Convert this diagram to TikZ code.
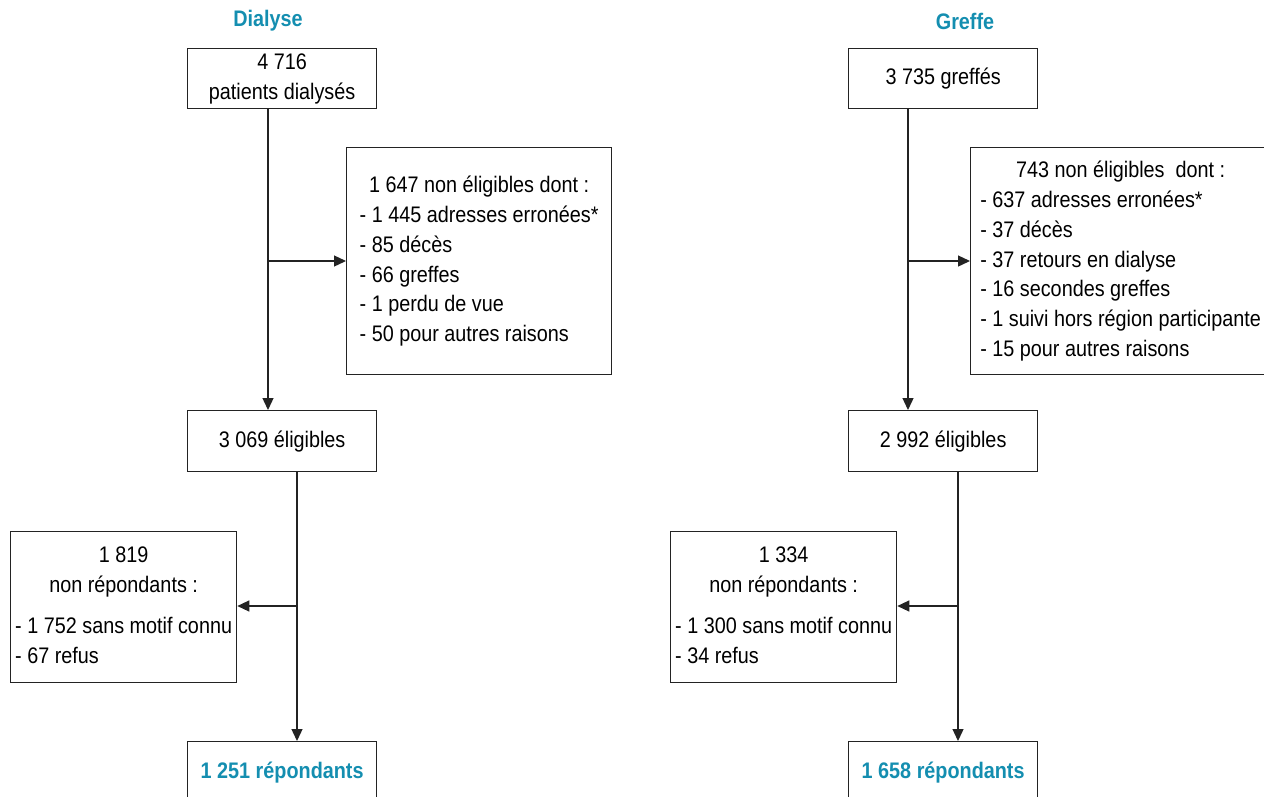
\documentclass[tikz,border=0pt]{standalone}
\usepackage{fontspec}
\setmainfont{Liberation Sans}[FakeStretch=0.88]
\usetikzlibrary{arrows.meta}
\definecolor{titleblue}{RGB}{20,142,176}
\definecolor{linegray}{RGB}{35,35,35}
\newcommand{\hd}[1]{\multicolumn{1}{@{}c@{}}{#1}}
\begin{document}
\begin{tikzpicture}[x=1pt,y=-1pt,
  txt/.style={font=\fontsize{22.5}{29.8}\selectfont},
  box/.style={draw=linegray,line width=1.3pt,inner sep=0pt,anchor=north west,align=center,txt},
  ttl/.style={font=\fontsize{22.5}{24}\selectfont\bfseries,text=titleblue},
  link/.style={draw=linegray,line width=1.3pt},
  arr/.style={link,-{Triangle[length=12pt,width=11pt]}}]
\useasboundingbox (0,0) rectangle (1264,796);

% ---------- Dialyse ----------
\node[ttl] (t1) at (268,21) {Dialyse};
\node[box,minimum width=189,minimum height=60] (A) at (187,48) {\raisebox{-2pt}{4 716}\\\raisebox{-2pt}{patients dialysés}};
\node[box,minimum width=265,minimum height=227] (C) at (346,147) {\begin{tabular}{@{}l@{}}
\hd{1 647 non éligibles dont :}\\
- 1 445 adresses erronées*\\
- 85 décès\\
- 66 greffes\\
- 1 perdu de vue\\
- 50 pour autres raisons
\end{tabular}};
\node[box,minimum width=189,minimum height=61] (B) at (187,410) {3 069 éligibles};
\node[box,minimum width=226,minimum height=151] (E) at (10,531) {\begin{tabular}{@{}l@{}}
\hd{1 819}\\
\hd{non répondants :}\\[11pt]
- 1 752 sans motif connu\\
- 67 refus
\end{tabular}};
\node[box,minimum width=189,minimum height=62,font=\fontsize{22.5}{24}\selectfont\bfseries,text=titleblue] (D) at (187,741) {1 251 répondants};

\coordinate (j1) at (268,261);
\coordinate (j2) at (297,606);
\draw[arr] (A.south -| j1) -- (B.north -| j1);
\draw[arr] (j1) -- (C.west |- j1);
\draw[arr] (B.south -| j2) -- (D.north -| j2);
\draw[arr] (j2) -- (E.east |- j2);

% ---------- Greffe ----------
\node[ttl] (t2) at (965,21) {Greffe};
\node[box,minimum width=189,minimum height=60] (A2) at (848,48) {3 735 greffés};
\node[box,minimum width=300,minimum height=227] (C2) at (970,147) {\begin{tabular}{@{}l@{}}
\hd{743 non éligibles\ \ dont :}\\
- 637 adresses erronées*\\
- 37 décès\\
- 37 retours en dialyse\\
- 16 secondes greffes\\
- 1 suivi hors région participante\\
- 15 pour autres raisons
\end{tabular}};
\node[box,minimum width=189,minimum height=61] (B2) at (848,410) {2 992 éligibles};
\node[box,minimum width=226,minimum height=151] (E2) at (670,531) {\begin{tabular}{@{}l@{}}
\hd{1 334}\\
\hd{non répondants :}\\[11pt]
- 1 300 sans motif connu\\
- 34 refus
\end{tabular}};
\node[box,minimum width=189,minimum height=62,font=\fontsize{22.5}{24}\selectfont\bfseries,text=titleblue] (D2) at (848,741) {1 658 répondants};

\coordinate (k1) at (908,261);
\coordinate (k2) at (958,606);
\draw[arr] (A2.south -| k1) -- (B2.north -| k1);
\draw[arr] (k1) -- (C2.west |- k1);
\draw[arr] (B2.south -| k2) -- (D2.north -| k2);
\draw[arr] (k2) -- (E2.east |- k2);
\end{tikzpicture}
\end{document}
